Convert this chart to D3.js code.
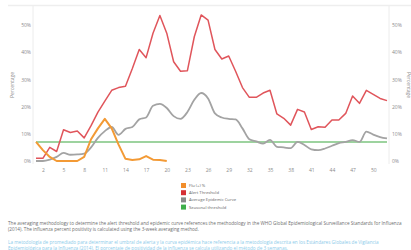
<!DOCTYPE html>
<html>
<head>
<meta charset="utf-8">
<script src="https://cdn.jsdelivr.net/npm/d3@7"></script>
<style>
  html, body { margin: 0; padding: 0; background: #fff; }
  svg { display: block; font-family: "Open Sans", sans-serif; }
</style>
</head>
<body>
<svg id="chart"></svg>
<script>
// data
const weeks = d3.range(1, 53);
const alertThreshold = [1, 1, 5, 3.5, 11.5, 10.5, 11, 8.5, 13, 18, 22, 26, 27, 27.5, 34, 41, 38, 47, 53.5, 47,
  36.5, 33, 33.2, 45.7, 53.7, 51.8, 41, 37.5, 38.6, 33, 27, 23.4, 23.4, 25, 26, 17.3, 15.7, 13.2, 19, 18,
  11.6, 12.6, 12.4, 15.1, 15.1, 17.5, 23.9, 21.2, 26, 24.5, 23, 22.2];
const avgEpidemic = [0, 0, 0.5, 1.5, 3, 2.3, 2.4, 2.7, 5, 8.5, 11, 12.5, 9.6, 11.8, 12.5, 15.3, 16, 20.3, 21, 19.5,
  16.5, 15.5, 18, 22.5, 25, 23, 17.5, 16, 15.5, 15.3, 12, 8, 7.2, 6.4, 7.8, 5.2, 5, 4.7, 7, 5.9,
  4.3, 4, 4.6, 5.6, 6.6, 7, 7.7, 7, 10.8, 9.7, 8.8, 8.3];
const seasonal = weeks.map(() => 7);
const fluWeeks = d3.range(1, 21);
const fluPos = [7, 4, 1.5, 0, 0, 0, 0, 1.5, 8, 12, 15.5, 12, 6, 0.8, 0.4, 0.6, 1.8, 0.5, 0.4, 0];
const xTicks = d3.range(2, 52, 3);
const yTicks = [0, 10, 20, 30, 40, 50];
const legendLabels = ["Flu (+) %", "Alert Threshold", "Average Epidemic Curve", "Seasonal threshold"];
const legendColors = ["#f28e2b", "#d62f35", "#8a8a8a", "#3fae49"];
const noteEn = [
  "The averaging methodology to determine the alert threshold and epidemic curve references the methodology in the WHO Global Epidemiological Surveillance Standards for Influenza",
  "(2014). The influenza percent positivity is calculated using the 3-week averaging method."
];
const noteEs = [
  "La metodología de promediado para determinar el umbral de alerta y la curva epidémica hace referencia a la metodología descrita en los Estándares Globales de Vigilancia",
  "Epidemiológica para la Influenza (2014). El porcentaje de positividad de la influenza se calcula utilizando el método de 3 semanas."
];

const width = 411;
const height = 250;

const svg = d3.select("#chart").attr("width", width).attr("height", height);

const x = d3.scaleLinear().domain([1, 52]).range([36, 387]);
const y = d3.scaleLinear().domain([0, 57]).range([161, 6]);

// frame lines
svg.append("line").attr("x1", 8).attr("x2", width).attr("y1", 5.5).attr("y2", 5.5)
  .attr("stroke", "#eeeeee").attr("stroke-width", 1.5);
[33, 389].forEach(px => {
  svg.append("line").attr("x1", px).attr("x2", px).attr("y1", 6).attr("y2", 164)
    .attr("stroke", "#ececec").attr("stroke-width", 1);
});

// y axes both sides
const yLeft = svg.append("g").attr("transform", "translate(33,0)")
  .call(d3.axisLeft(y).tickValues(yTicks).tickSize(0).tickPadding(2).tickFormat(d => d + "%"));
const yRight = svg.append("g").attr("transform", "translate(389,0)")
  .call(d3.axisRight(y).tickValues(yTicks).tickSize(0).tickPadding(3).tickFormat(d => d + "%"));
const xAxis = svg.append("g").attr("transform", "translate(0,165)")
  .call(d3.axisBottom(x).tickValues(xTicks).tickSize(0).tickPadding(3));
[yLeft, yRight, xAxis].forEach(g => {
  g.select(".domain").remove();
  g.selectAll("text").attr("fill", "#8c8c8c").style("font-size", "5px").style("font-family", "Open Sans, sans-serif");
});

svg.append("text").attr("transform", "translate(14,85) rotate(-90)")
  .attr("text-anchor", "middle").attr("fill", "#8c8c8c").style("font-size", "5px").text("Percentage");
svg.append("text").attr("transform", "translate(407,85) rotate(90)")
  .attr("text-anchor", "middle").attr("fill", "#8c8c8c").style("font-size", "5px").text("Percentage");

const line = d3.line().x((d, i) => x(d[0])).y(d => y(d[1]));

// seasonal threshold
svg.append("path").datum(d3.zip(weeks, seasonal)).attr("d", line)
  .attr("fill", "none").attr("stroke", "#7cc47f").attr("stroke-width", 1.6);

// average epidemic curve
svg.append("path").datum(d3.zip(weeks, avgEpidemic)).attr("d", line.curve(d3.curveMonotoneX))
  .attr("fill", "none").attr("stroke", "#a3a3a3").attr("stroke-width", 1.8);

line.curve(d3.curveLinear);

// alert threshold
svg.append("path").datum(d3.zip(weeks, alertThreshold)).attr("d", line)
  .attr("fill", "none").attr("stroke", "#e0555b").attr("stroke-width", 1.5)
  .attr("stroke-linejoin", "round");

// flu positivity
svg.append("path").datum(d3.zip(fluWeeks, fluPos)).attr("d", line)
  .attr("fill", "none").attr("stroke", "#f39a35").attr("stroke-width", 2)
  .attr("stroke-linejoin", "round");

// legend
const legend = svg.append("g").attr("transform", "translate(181,183)");
const item = legend.selectAll("g").data(legendLabels).join("g")
  .attr("transform", (d, i) => `translate(0,${i * 7.2})`);
item.append("rect").attr("width", 5).attr("height", 5).attr("fill", (d, i) => legendColors[i]);
item.append("text").attr("x", 8).attr("y", 4).attr("fill", "#666").style("font-size", "4.2px").text(d => d);

// footnotes
function fitText(sel, targetWidth) {
  const w = sel.node().getComputedTextLength();
  return w;
}
const notes = svg.append("g");
const en1 = notes.append("text").attr("x", 8).attr("y", 225).attr("fill", "#6e6e6e")
  .style("font-size", "10px").text(noteEn[0]);
const fs = 10 * 394 / en1.node().getComputedTextLength();
en1.style("font-size", fs + "px");
notes.append("text").attr("x", 8).attr("y", 230.5).attr("fill", "#6e6e6e")
  .style("font-size", fs + "px").text(noteEn[1]);
notes.selectAll(null).data(noteEs).join("text")
  .attr("x", 8).attr("y", (d, i) => 244 + i * 5.5).attr("fill", "#8ccbea")
  .style("font-size", fs + "px").text(d => d);
</script>
</body>
</html>
